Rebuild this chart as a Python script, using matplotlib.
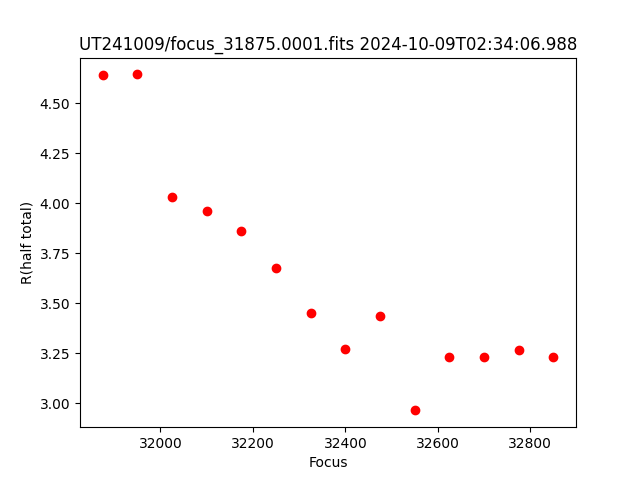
import matplotlib
matplotlib.use("Agg")
import matplotlib.pyplot as plt

# focus positions and half-total radius
focus = [31875, 31950, 32025, 32100, 32175, 32250, 32325,
         32400, 32475, 32550, 32625, 32700, 32775, 32850]
r_half = [4.640, 4.645, 4.033, 3.963, 3.860, 3.678, 3.452,
          3.270, 3.436, 2.965, 3.234, 3.230, 3.268, 3.232]

title = "UT241009/focus_31875.0001.fits 2024-10-09T02:34:06.988"

fig, ax = plt.subplots(figsize=(6.4, 4.8), dpi=100)
ax.plot(focus, r_half, "ro")
ax.set_xlabel("Focus")
ax.set_ylabel("R(half total)")
ax.set_title(title)
fig.savefig("out.png", dpi=100)
plt.close(fig)
